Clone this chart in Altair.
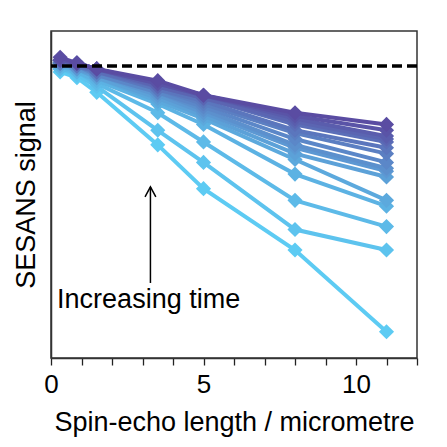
import altair as alt
import pandas as pd

# Spin-echo lengths (micrometre)
x_vals = [0.3, 0.85, 1.5, 3.5, 5.0, 8.0, 11.0]

# SESANS signal per time step (lightest/earliest first)
s00 = [0.98, 0.96, 0.91, 0.73, 0.58, 0.37, 0.09]
s01 = [0.99, 0.97, 0.93, 0.78, 0.67, 0.44, 0.37]
s02 = [0.99, 0.98, 0.94, 0.84, 0.74, 0.54, 0.45]
s03 = [1.00, 0.98, 0.95, 0.87, 0.80, 0.63, 0.52]
s04 = [1.00, 0.99, 0.96, 0.88, 0.82, 0.68, 0.54]
s05 = [1.01, 0.99, 0.96, 0.89, 0.83, 0.70, 0.62]
s06 = [1.01, 0.99, 0.97, 0.90, 0.84, 0.72, 0.64]
s07 = [1.01, 1.00, 0.97, 0.91, 0.85, 0.73, 0.65]
s08 = [1.01, 1.00, 0.97, 0.91, 0.86, 0.75, 0.67]
s09 = [1.01, 1.00, 0.98, 0.92, 0.87, 0.77, 0.70]
s10 = [1.02, 1.00, 0.98, 0.92, 0.88, 0.78, 0.72]
s11 = [1.02, 1.01, 0.98, 0.93, 0.89, 0.80, 0.74]
s12 = [1.02, 1.01, 0.99, 0.93, 0.89, 0.81, 0.75]
s13 = [1.02, 1.01, 0.99, 0.94, 0.90, 0.82, 0.76]
s14 = [1.02, 1.01, 0.99, 0.94, 0.90, 0.83, 0.78]
s15 = [1.03, 1.01, 0.99, 0.95, 0.90, 0.84, 0.80]
series = [s00, s01, s02, s03, s04, s05, s06, s07, s08, s09, s10, s11, s12, s13, s14, s15]

reference_level = 1.0
arrow_x = 3.26
arrow_y = [0.257, 0.586]
label_text = "Increasing time"
label_pos = [0.2, 0.171]

rows = []
for i, s in enumerate(series):
    for xv, yv in zip(x_vals, s):
        rows.append({"series": i, "x": xv, "y": yv})
df = pd.DataFrame(rows)

FONT = "Liberation Sans"
xscale = alt.Scale(domain=[0, 12], nice=False)
yscale = alt.Scale(domain=[0, 1.12], nice=False)
cscale = alt.Scale(domain=[0, len(series) - 1], range=["#5DCBF3", "#5A4CA2"], interpolate="rgb")

xaxis = alt.Axis(values=list(range(13)), labelExpr="datum.value % 5 == 0 ? datum.label : ''",
                 grid=False, tickSize=7, tickWidth=1.3, tickColor="#222", domainColor="#333",
                 domainWidth=1.5, labelFontSize=26, labelFont=FONT, labelColor="black",
                 labelPadding=6, title="Spin-echo length / micrometre", titleFontSize=27,
                 titleFont=FONT, titleFontWeight="normal", titleColor="black", titlePadding=12,
                 labelFlush=False)
yaxis = alt.Axis(labels=False, ticks=False, grid=False, domainColor="#333", domainWidth=1.5,
                 title="SESANS signal", titleFontSize=27, titleFont=FONT,
                 titleFontWeight="normal", titleColor="black", titlePadding=11)

base = alt.Chart(df)
layers = []
for i in range(len(series)):
    layers.append(
        base.transform_filter(alt.datum.series == i).mark_line(
            strokeWidth=4,
            point=alt.OverlayMarkDef(shape="diamond", size=230, filled=True, opacity=1),
        ).encode(
            x=alt.X("x:Q", scale=xscale, axis=xaxis),
            y=alt.Y("y:Q", scale=yscale, axis=yaxis),
            color=alt.Color("series:Q", scale=cscale, legend=None),
        )
    )

dash = alt.Chart(pd.DataFrame({"y": [reference_level]})).mark_rule(
    color="black", strokeWidth=3.5, strokeDash=[10, 5]
).encode(y=alt.Y("y:Q", scale=yscale, axis=yaxis))

arrow_df = pd.DataFrame({"x": [arrow_x], "y": [arrow_y[0]], "y2": [arrow_y[1]]})
arrow_line = alt.Chart(arrow_df).mark_rule(color="black", strokeWidth=1.5).encode(
    x=alt.X("x:Q", scale=xscale, axis=xaxis),
    y=alt.Y("y:Q", scale=yscale, axis=yaxis),
    y2="y2:Q",
)
arrow_head = alt.Chart(arrow_df).mark_point(
    shape="M-1.8,3.3L0,0L1.8,3.3", size=36, filled=False, color="black", strokeWidth=1.5, opacity=1
).encode(
    x=alt.X("x:Q", scale=xscale, axis=xaxis),
    y=alt.Y("y2:Q", scale=yscale, axis=yaxis),
)

text = alt.Chart(pd.DataFrame({"x": [label_pos[0]], "y": [label_pos[1]], "t": [label_text]})).mark_text(
    align="left", baseline="alphabetic", fontSize=27, font=FONT, color="black"
).encode(
    x=alt.X("x:Q", scale=xscale, axis=xaxis),
    y=alt.Y("y:Q", scale=yscale, axis=yaxis),
    text="t:N",
)

chart = alt.layer(*layers, dash, arrow_line, arrow_head, text).properties(
    width=366, height=327,
    autosize=alt.AutoSizeParams(type="none"),
    padding={"left": 43, "top": 23, "right": 14, "bottom": 81},
    background="white",
).configure_view(stroke="#333", strokeWidth=1.5)

chart.save("out.html", embed_options={"renderer": "svg", "actions": False})
